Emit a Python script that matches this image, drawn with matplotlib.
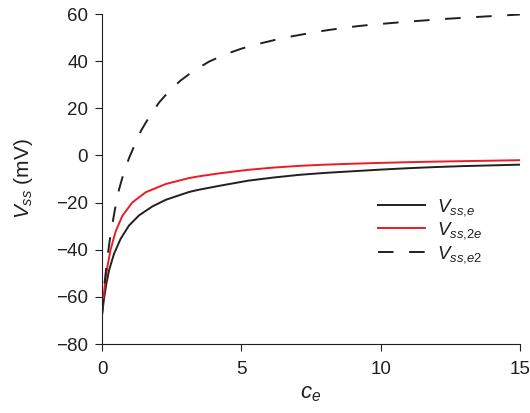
import matplotlib.pyplot as plt

plt.rcParams['font.family'] = ['Liberation Sans', 'DejaVu Sans']
plt.rcParams['mathtext.fontset'] = 'custom'
plt.rcParams['mathtext.rm'] = 'Liberation Sans'
plt.rcParams['mathtext.it'] = 'Liberation Sans:italic'

TXT = '#231f20'

# values
x_e = [0, 0.072, 0.156, 0.25, 0.43, 0.67, 0.97, 1.33, 1.81, 2.29, 3.12, 3.45, 4.2,
       5.24, 6.2, 7.1, 8.0, 9.0, 10.0, 11.0, 12.0, 13.0, 14.0, 15.0]
v_e = [-67.5, -60.8, -54.4, -48.8, -41.7, -35.3, -29.7, -25.4, -21.6, -18.8, -15.5, -14.6, -12.9,
       -10.7, -9.3, -8.2, -7.4, -6.7, -6.0, -5.4, -4.9, -4.5, -4.2, -3.9]

x_2e = [0, 0.036, 0.108, 0.19, 0.31, 0.49, 0.73, 1.09, 1.57, 2.29, 3.12, 3.45, 4.2,
        5.24, 6.2, 7.1, 8.0, 9.0, 10.0, 11.0, 12.0, 13.0, 14.0, 15.0]
v_2e = [-67.5, -62.0, -54.4, -47.3, -39.8, -32.2, -25.6, -19.9, -15.6, -12.1, -9.6, -8.9, -7.6,
        -6.1, -5.1, -4.4, -3.9, -3.5, -3.15, -2.85, -2.6, -2.4, -2.2, -2.0]

x_e2 = [0, 0.06, 0.12, 0.19, 0.27, 0.38, 0.5, 0.62, 0.8, 0.98, 1.2, 1.4, 1.7, 2.05, 2.4,
        2.82, 3.3, 3.84, 4.4, 5.0, 5.6, 6.2, 6.8, 7.4, 8.0, 8.6, 9.2, 9.8, 10.4, 11.0,
        11.7, 12.4, 13.1, 13.8, 14.4, 15.0]
v_e2 = [-67.5, -58.0, -51.0, -43.5, -36.5, -28.5, -20.5, -14.0, -6.5, -0.8, 5.2, 10.5, 16.5, 22.5, 27.2,
        31.8, 36.0, 39.8, 42.8, 45.3, 47.3, 49.0, 50.5, 51.8, 53.0, 54.0, 54.9, 55.6, 56.2, 56.8,
        57.4, 58.0, 58.5, 59.0, 59.4, 59.8]

fig = plt.figure(figsize=(5.3, 4.13), dpi=100)
ax = fig.add_axes([0.1925, 0.167, 0.7885, 0.799])

ax.plot(x_e, v_e, color='#231f20', lw=1.4, solid_joinstyle='round', label=r'$V_{ss{,}e}$')
ax.plot(x_2e, v_2e, color='#ed1c24', lw=1.4, solid_joinstyle='round', label=r'$V_{ss{,}2e}$')
ax.plot(x_e2, v_e2, color='#231f20', lw=1.4, dashes=(8, 8), label=r'$V_{ss{,}e2}$')

ax.set_xlim(0, 15)
ax.set_ylim(-80, 60)
ax.set_xticks([0, 5, 10, 15])
ax.set_yticks(range(-80, 61, 20))
for s in ['top', 'right']:
    ax.spines[s].set_visible(False)
for s in ['left', 'bottom']:
    ax.spines[s].set_linewidth(0.8)
    ax.spines[s].set_color(TXT)
ax.tick_params(direction='out', length=5, width=0.8, color=TXT,
               labelsize=13.5, labelcolor=TXT)
ax.tick_params(axis='x', pad=7)
ax.tick_params(axis='y', pad=5)

ax.set_xlabel(r'$c_e$', fontsize=16, color=TXT, labelpad=4)
ax.set_ylabel(r'$V_{ss}$ (mV)', fontsize=15, color=TXT, labelpad=15)

ax.legend(loc='upper left', bbox_to_anchor=(0.66, 0.446), frameon=False,
          borderpad=0, borderaxespad=0,
          fontsize=13.5, handlelength=2.5, handletextpad=0.64, labelspacing=0.15,
          labelcolor=TXT)

fig.savefig('out.png', dpi=100)
